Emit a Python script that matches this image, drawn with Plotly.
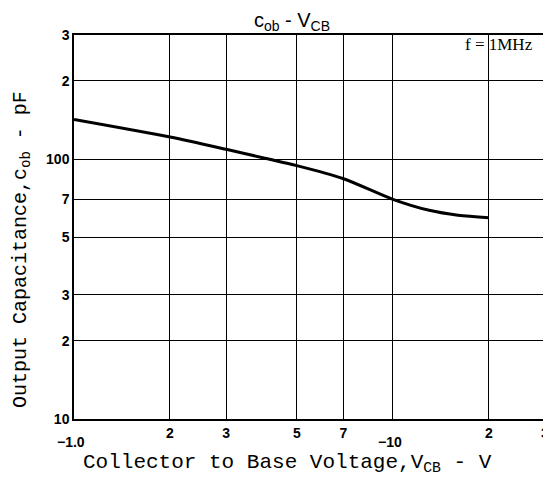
"""Output capacitance vs collector-base voltage (log-log)."""

import math

import plotly.graph_objects as go

# curve
vcb = [1, 2, 3, 4, 5, 7, 10, 13, 16, 20]
cob = [142, 121.5, 109, 100.5, 94.3, 84, 70, 63.5, 60.8, 59.5]

x_ticks = [1, 2, 3, 5, 7, 10, 20, 30]
x_labels = ["", "2", "3", "5", "7", "", "2", "3"]
# the decade labels sit on a lower row in the original
x_decades = [1, 10]
x_decade_labels = ["\u22121.0", "\u221210"]
y_ticks = [10, 20, 30, 50, 70, 100, 200, 300]
y_labels = ["10", "2", "3", "5", "7", "100", "2", "3"]

MONO = "Liberation Mono"
SANS = "Liberation Sans"
TICK_FONT = dict(family=SANS, size=14, color="black", weight="bold")

fig = go.Figure()
fig.add_trace(
    go.Scatter(
        x=vcb,
        y=cob,
        mode="lines",
        line=dict(color="black", width=3, shape="spline", smoothing=0.8),
        showlegend=False,
        hoverinfo="skip",
    )
)

axis_common = dict(
    type="log",
    showgrid=True,
    gridcolor="black",
    gridwidth=1,
    showline=True,
    linecolor="black",
    linewidth=1.5,
    mirror=True,
    ticks="",
    tickmode="array",
    zeroline=False,
    automargin=False,
    tickfont=TICK_FONT,
)

fig.update_xaxes(
    **axis_common,
    range=[0, 1.4771],
    tickvals=x_ticks,
    ticktext=x_labels,
)
fig.update_yaxes(
    **axis_common,
    range=[1, 2.4771],
    tickvals=y_ticks,
    ticktext=y_labels,
)

# log axes take annotation positions in log10 units
for xv, label in zip(x_decades, x_decade_labels):
    fig.add_annotation(
        text=label,
        x=math.log10(xv),
        xref="x",
        y=-0.06,
        yref="paper",
        xanchor="center",
        yanchor="middle",
        xshift=-3,
        showarrow=False,
        font=TICK_FONT,
    )

fig.add_annotation(
    text="Collector to Base Voltage,V<sub>CB</sub> - V",
    xref="paper",
    yref="paper",
    x=0.454,
    y=-0.116,
    xanchor="center",
    yanchor="middle",
    showarrow=False,
    font=dict(family=MONO, size=21, color="black"),
)

fig.add_annotation(
    text="Output Capacitance,c<sub>ob</sub> - pF",
    xref="paper",
    yref="paper",
    x=-0.1125,
    y=0.44,
    xanchor="center",
    yanchor="middle",
    textangle=-90,
    showarrow=False,
    font=dict(family=MONO, size=20, color="black"),
)

fig.add_annotation(
    text="f = 1MHz",
    xref="paper",
    yref="paper",
    x=0.978,
    y=0.974,
    xanchor="right",
    yanchor="middle",
    showarrow=False,
    font=dict(family="Liberation Serif", size=17, color="black"),
)

fig.update_layout(
    width=543,
    height=472,
    margin=dict(l=66, r=6, t=27, b=61),
    paper_bgcolor="white",
    plot_bgcolor="white",
    title=dict(
        text="c<sub>ob</sub> - V<sub>CB</sub>",
        x=0.523,
        xanchor="center",
        xref="container",
        y=0.975,
        yanchor="middle",
        font=dict(family=SANS, size=20, color="black"),
    ),
)

fig.write_html("out.html")
